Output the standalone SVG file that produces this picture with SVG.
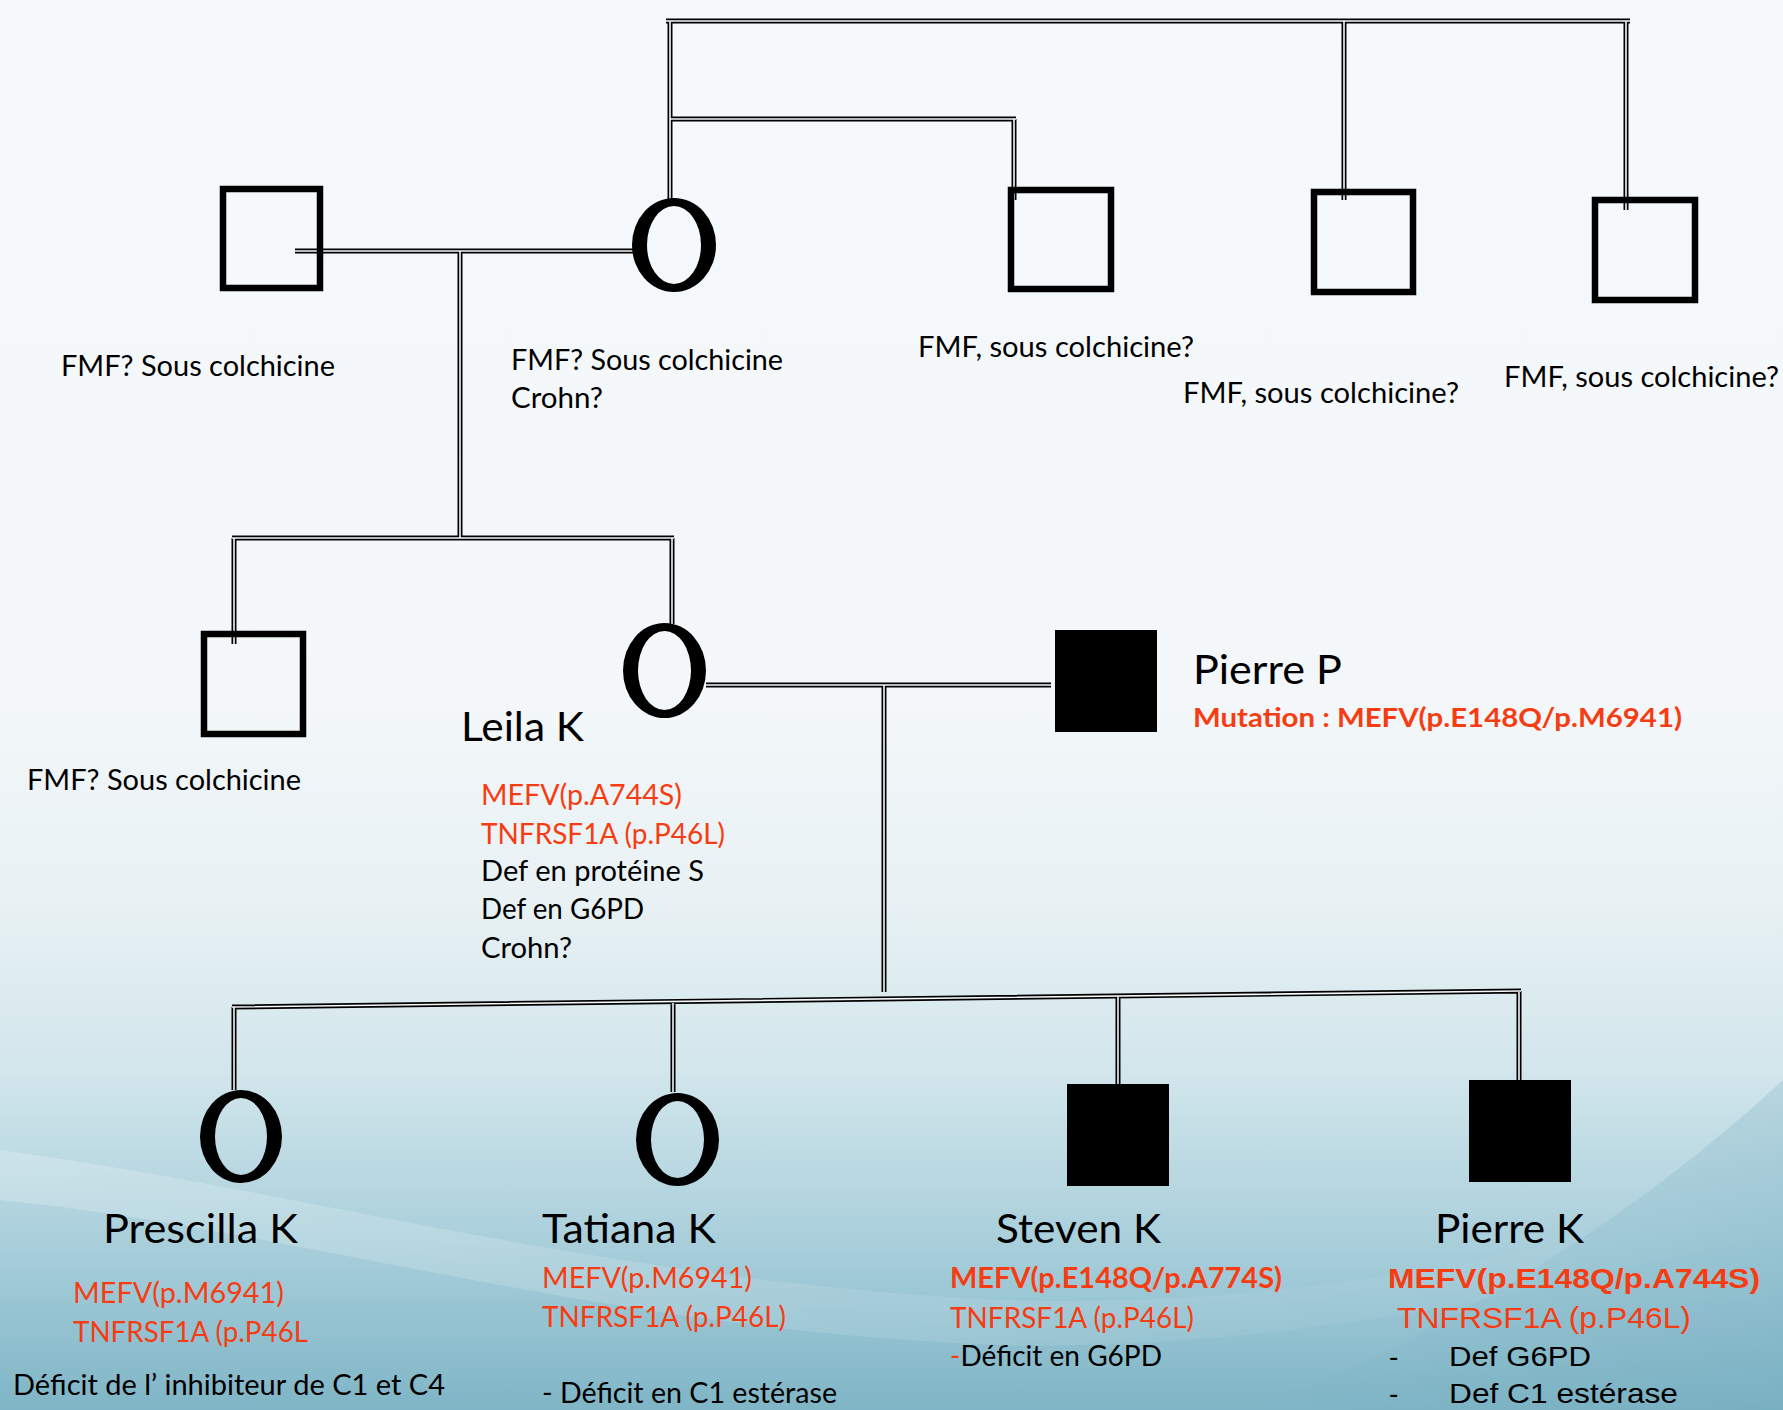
<svg xmlns="http://www.w3.org/2000/svg" xmlns:xlink="http://www.w3.org/1999/xlink" width="1783" height="1410" viewBox="0 0 1783 1410">
<style>
.t{font-family:Lato,'Open Sans',sans-serif;font-size:29px;fill:#000}
.nm{font-size:40px}
.r{fill:#f63c12}
.b{font-weight:bold}
.a{font-family:'Liberation Sans',Arial,sans-serif}
.sq{fill:none;stroke:#000;stroke-width:6.5}
.fill{fill:#000}
.o{fill:#000;fill-rule:evenodd}
.lo{fill:none;stroke:#000;stroke-width:5}
.li{fill:none;stroke:#f4f8fa;stroke-width:1.6}
</style>
<defs>
<linearGradient id="bg" x1="0" y1="0" x2="0" y2="1">
<stop offset="0" stop-color="#f6f9fb"/>
<stop offset="0.5" stop-color="#f3f7f9"/>
<stop offset="0.64" stop-color="#e8f1f4"/>
<stop offset="0.76" stop-color="#d2e6ec"/>
<stop offset="0.88" stop-color="#a9cfdb"/>
<stop offset="1" stop-color="#7fb5c6"/>
</linearGradient>
<linearGradient id="w1" x1="0" y1="0" x2="1" y2="0">
<stop offset="0" stop-color="#ffffff" stop-opacity="0.22"/>
<stop offset="1" stop-color="#ffffff" stop-opacity="0"/>
</linearGradient>
<linearGradient id="w2" x1="0" y1="0" x2="1" y2="0">
<stop offset="0" stop-color="#5f9fb5" stop-opacity="0"/>
<stop offset="1" stop-color="#5f9fb5" stop-opacity="0.22"/>
</linearGradient>
<path id="links" d="M666 21H1630M670 21V199M670 119H1016M1014 119V200M1344 21V200M1626 21V210M295 251H633M460 251V538M232 538H674M234 538V644M672 538V624M706 685H1051M884 685V992M232 1007L1521 991M234 1007V1090M673 1003V1092M1118 996V1084M1519 991V1080"/>
</defs>
<rect width="1783" height="1410" fill="url(#bg)"/>
<path d="M0 1150C300 1190 600 1280 1000 1300C1300 1310 1550 1250 1783 1190V1230C1550 1290 1300 1350 1000 1345C600 1330 300 1230 0 1200Z" fill="url(#w1)"/>
<path d="M1250 1410C1450 1330 1620 1230 1783 1080V1410Z" fill="url(#w2)"/>

<g id="connectors">
<use xlink:href="#links" class="lo"/>
<use xlink:href="#links" class="li"/>
</g>

<g id="gen1-father">
<rect class="sq" x="223" y="189" width="97" height="99"/>
<text class="t" x="61" y="376" textLength="274" lengthAdjust="spacingAndGlyphs">FMF? Sous colchicine</text>
</g>
<g id="gen1-mother">
<path class="o" d="M632 245a42 47 0 1 0 84 0a42 47 0 1 0 -84 0ZM647 245a27 39 0 1 0 54 0a27 39 0 1 0 -54 0Z"/>
<text class="t" x="511" y="370" textLength="272" lengthAdjust="spacingAndGlyphs">FMF? Sous colchicine</text>
<text class="t" x="511" y="408" textLength="92" lengthAdjust="spacingAndGlyphs">Crohn?</text>
</g>
<g id="gen1-brother1">
<rect class="sq" x="1011" y="190" width="100" height="99"/>
<text class="t" x="918" y="357" textLength="276" lengthAdjust="spacingAndGlyphs">FMF, sous colchicine?</text>
</g>
<g id="gen1-brother2">
<rect class="sq" x="1314" y="192" width="99" height="100"/>
<text class="t" x="1183" y="403" textLength="276" lengthAdjust="spacingAndGlyphs">FMF, sous colchicine?</text>
</g>
<g id="gen1-brother3">
<rect class="sq" x="1595" y="200" width="100" height="100"/>
<text class="t" x="1504" y="387" textLength="275" lengthAdjust="spacingAndGlyphs">FMF, sous colchicine?</text>
</g>

<g id="gen2-brother">
<rect class="sq" x="204" y="634" width="99" height="100"/>
<text class="t" x="27" y="790" textLength="274" lengthAdjust="spacingAndGlyphs">FMF? Sous colchicine</text>
</g>
<g id="leila-k">
<path class="o" d="M623 670.5a41.5 47.5 0 1 0 83 0a41.5 47.5 0 1 0 -83 0ZM638 670.5a26.5 39.5 0 1 0 53 0a26.5 39.5 0 1 0 -53 0Z"/>
<text class="t nm" x="461" y="741" textLength="123" lengthAdjust="spacingAndGlyphs">Leila K</text>
<text class="t r" x="481" y="805" textLength="201" lengthAdjust="spacingAndGlyphs">MEFV(p.A744S)</text>
<text class="t r" x="481" y="844" textLength="244" lengthAdjust="spacingAndGlyphs">TNFRSF1A (p.P46L)</text>
<text class="t" x="481" y="881" textLength="223" lengthAdjust="spacingAndGlyphs">Def en protéine S</text>
<text class="t" x="481" y="919" textLength="163" lengthAdjust="spacingAndGlyphs">Def en G6PD</text>
<text class="t" x="481" y="958" textLength="91" lengthAdjust="spacingAndGlyphs">Crohn?</text>
</g>
<g id="pierre-p">
<rect class="fill" x="1055" y="630" width="102" height="102"/>
<text class="t nm" x="1193" y="684" textLength="149" lengthAdjust="spacingAndGlyphs">Pierre P</text>
<text class="t r b" x="1193" y="727" style="font-size:27px" textLength="489" lengthAdjust="spacingAndGlyphs">Mutation : MEFV(p.E148Q/p.M6941)</text>
</g>

<g id="prescilla-k">
<path class="o" d="M200 1136.5a41 46.5 0 1 0 82 0a41 46.5 0 1 0 -82 0ZM215 1136.5a26 38.5 0 1 0 52 0a26 38.5 0 1 0 -52 0Z"/>
<text class="t nm" x="103" y="1243" textLength="195" lengthAdjust="spacingAndGlyphs">Prescilla K</text>
<text class="t r" x="73" y="1303" textLength="211" lengthAdjust="spacingAndGlyphs">MEFV(p.M6941)</text>
<text class="t r" x="73" y="1342" textLength="235" lengthAdjust="spacingAndGlyphs">TNFRSF1A (p.P46L</text>
<text class="t" x="13" y="1395" textLength="432" lengthAdjust="spacingAndGlyphs">Déficit de l’ inhibiteur de C1 et C4</text>
</g>
<g id="tatiana-k">
<path class="o" d="M636 1139.5a41.5 46.5 0 1 0 83 0a41.5 46.5 0 1 0 -83 0ZM651 1139.5a26.5 38.5 0 1 0 53 0a26.5 38.5 0 1 0 -53 0Z"/>
<text class="t nm" x="542" y="1243" textLength="174" lengthAdjust="spacingAndGlyphs">Tatiana K</text>
<text class="t r" x="542" y="1288" textLength="210" lengthAdjust="spacingAndGlyphs">MEFV(p.M6941)</text>
<text class="t r" x="542" y="1327" textLength="244" lengthAdjust="spacingAndGlyphs">TNFRSF1A (p.P46L)</text>
<text class="t" x="542" y="1403" textLength="295" lengthAdjust="spacingAndGlyphs">- Déficit en C1 estérase</text>
</g>
<g id="steven-k">
<rect class="fill" x="1067" y="1084" width="102" height="102"/>
<text class="t nm" x="996" y="1243" textLength="165" lengthAdjust="spacingAndGlyphs">Steven K</text>
<text class="t r b" x="950" y="1288" style="font-size:28px" textLength="332" lengthAdjust="spacingAndGlyphs">MEFV(p.E148Q/p.A774S)</text>
<text class="t r" x="950" y="1328" textLength="244" lengthAdjust="spacingAndGlyphs">TNFRSF1A (p.P46L)</text>
<text class="t" x="950" y="1366" textLength="212" lengthAdjust="spacingAndGlyphs"><tspan class="r">-</tspan>Déficit en G6PD</text>
</g>
<g id="pierre-k">
<rect class="fill" x="1469" y="1080" width="102" height="102"/>
<text class="t nm" x="1435" y="1243" textLength="149" lengthAdjust="spacingAndGlyphs">Pierre K</text>
<text class="t a r b" x="1388" y="1288" style="font-size:28px" textLength="372" lengthAdjust="spacingAndGlyphs">MEFV(p.E148Q/p.A744S)</text>
<text class="t a r" x="1397" y="1328" style="font-size:30px" textLength="294" lengthAdjust="spacingAndGlyphs">TNFRSF1A (p.P46L)</text>
<text class="t a" x="1389" y="1366" style="font-size:28px">-</text>
<text class="t a" x="1449" y="1366" style="font-size:28px" textLength="142" lengthAdjust="spacingAndGlyphs">Def G6PD</text>
<text class="t a" x="1389" y="1403" style="font-size:28px">-</text>
<text class="t a" x="1449" y="1403" style="font-size:28px" textLength="229" lengthAdjust="spacingAndGlyphs">Def C1 estérase</text>
</g>
</svg>
